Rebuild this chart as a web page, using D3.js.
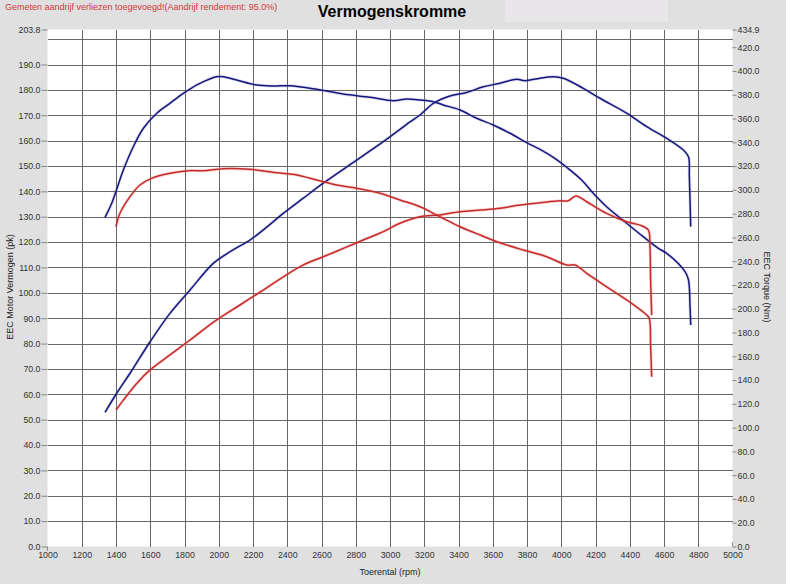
<!DOCTYPE html>
<html><head><meta charset="utf-8">
<script src="https://cdn.jsdelivr.net/npm/d3@7"></script>
<style>
html,body{margin:0;padding:0;background:#e0e0e0;}
svg{display:block;font-family:"Liberation Sans",Arial,sans-serif;}
</style></head>
<body>
<svg id="c" width="786" height="584"></svg>
<script>
// ---------- data ----------
const title = "Vermogenskromme";
const note = "Gemeten aandrijf verliezen toegevoegd!(Aandrijf rendement: 95.0%)";
const xLabel = "Toerental (rpm)";
const yLeftLabel = "EEC Motor Vermogen (pk)";
const yRightLabel = "EEC Torque (Nm)";
const xTicks = [1000,1200,1400,1600,1800,2000,2200,2400,2600,2800,3000,3200,3400,3600,3800,4000,4200,4400,4600,4800,5000];
const leftTicks = [0,10,20,30,40,50,60,70,80,90,100,110,120,130,140,150,160,170,180,190,203.8];
const leftGrid = [10,20,30,40,50,60,70,80,90,100,110,120,130,140,150,160,170,180,190,200];
const rightTicks = [0,20,40,60,80,100,120,140,160,180,200,220,240,260,280,300,320,340,360,380,400,420,434.9];

// blue power (pk)
const bluePowerRpm = [1336,1404,1482,1599,1715,1832,1968,2066,2182,2260,2377,2494,2610,2805,3000,3117,3175,3253,3350,3448,3545,3642,3740,3788,3876,3954,4012,4129,4226,4382,4499,4616,4713,4743,4748,4756];
const bluePowerPk  = [52.9,60.4,68.3,80.7,91.9,101.1,111.6,116.2,120.8,124.8,131.3,137.3,143.2,152.3,161.5,167.4,170.1,174.7,177.6,179.0,181.2,182.6,184.2,183.6,184.6,185.2,184.6,180.6,176.7,170.8,165.5,160.9,156.3,153.6,145.8,126.1];
// blue torque (Nm)
const blueTorqueRpm = [1336,1375,1443,1501,1560,1638,1715,1793,1890,1988,2027,2105,2222,2318,2416,2572,2727,2883,3019,3098,3175,3253,3311,3409,3506,3603,3701,3798,3876,3954,4032,4119,4187,4265,4382,4479,4567,4616,4723,4743,4752,4756];
const blueTorqueNm  = [276.9,288.7,316.7,336.3,351.8,364.4,372.8,381.2,389.6,395.2,395.2,392.4,388.2,387.4,387.6,384.6,380.6,377.9,375.0,376.4,375.6,374.2,371.4,367.2,360.2,354.6,347.6,339.7,334.1,327.4,319.0,308.3,297.1,285.8,271.9,260.6,250.8,246.6,231.2,224.2,201.7,186.3];
// red power (pk)
const redPowerRpm = [1400,1443,1521,1599,1715,1832,1988,2124,2260,2377,2494,2610,2727,2844,2961,3058,3175,3292,3409,3526,3642,3759,3876,3993,4041,4086,4149,4265,4382,4460,4508,4518,4522,4528];
const redPowerPk  = [53.8,57.7,64.3,69.6,75.5,81.4,89.3,95.2,101.1,106.3,111.0,114.2,117.5,120.8,124.1,127.4,130.0,130.7,132.0,132.6,133.3,134.6,135.5,136.3,136.3,138.2,135.9,131.3,128.0,126.7,124.8,118.2,105.0,91.2];
// red torque (Nm)
const redTorqueRpm = [1400,1423,1482,1540,1608,1715,1822,1910,2027,2182,2338,2455,2572,2689,2805,2942,3058,3175,3292,3409,3526,3642,3778,3915,4032,4080,4149,4265,4382,4499,4514,4522,4528];
const redTorqueNm  = [269.0,280.3,294.3,304.1,309.7,313.9,316.1,316.1,317.8,317.3,314.4,312.5,308.3,304.1,301.3,297.1,291.5,285.8,277.4,269.0,262.0,255.5,249.4,243.8,236.8,236.8,229.8,218.5,207.4,194.7,192.0,168.1,142.8];

// ---------- layout ----------
const svg = d3.select("#c");
const L = 47.5, R = 732.5, T = 29.5, B = 546.5;
const x = d3.scaleLinear().domain([1000,5000]).range([L,R]);
const yL = d3.scaleLinear().domain([0,203.8]).range([B,T]);
const yR = d3.scaleLinear().domain([0,434.9]).range([B,T]);

// title area
svg.append("rect").attr("x",505).attr("y",0).attr("width",163).attr("height",22).attr("fill","#e9e6e9");
svg.append("text").attr("x",5).attr("y",10).attr("font-size",9).attr("fill","#d03a3a").text(note);
svg.append("text").attr("x",392).attr("y",17).attr("text-anchor","middle").attr("font-size",16).attr("font-weight","bold").attr("fill","#000").text(title);

// plot background
svg.append("rect").attr("x",L).attr("y",T).attr("width",R-L).attr("height",B-T).attr("fill","#fff");

// grid
const g = svg.append("g").attr("stroke","#686868").attr("stroke-width",1).attr("shape-rendering","crispEdges");
xTicks.filter(v=>v>1000&&v<5000).forEach(v=>{
  g.append("line").attr("x1",Math.round(x(v))+0.5).attr("x2",Math.round(x(v))+0.5).attr("y1",T).attr("y2",B);
});
leftGrid.forEach(v=>{
  g.append("line").attr("x1",L).attr("x2",R).attr("y1",Math.round(yL(v))+0.5).attr("y2",Math.round(yL(v))+0.5);
});

// axes
const axL = d3.axisLeft(yL).tickValues(leftTicks).tickFormat(d=>d3.format(".1f")(d)).tickSize(6).tickPadding(1);
const gl = svg.append("g").attr("transform",`translate(${L},0)`).call(axL);
const axR = d3.axisRight(yR).tickValues(rightTicks).tickFormat(d=>d3.format(".1f")(d)).tickSize(4).tickPadding(1);
const gr = svg.append("g").attr("transform",`translate(${R},0)`).call(axR);
const axB = d3.axisBottom(x).tickValues(xTicks).tickFormat(d=>d).tickSize(0).tickPadding(5);
const gb = svg.append("g").attr("transform",`translate(0,${B})`).call(axB);
[gl,gr,gb].forEach(a=>{
  a.select(".domain").remove();
  a.selectAll("text").attr("font-size",8.8).attr("fill","#333").attr("font-family","Liberation Sans, Arial, sans-serif");
  a.selectAll("line").attr("stroke","#888");
});
// small end ticks on x axis
svg.append("line").attr("x1",x(1000)).attr("x2",x(1000)).attr("y1",B).attr("y2",B+4).attr("stroke","#888");
svg.append("line").attr("x1",x(5000)).attr("x2",x(5000)).attr("y1",B-4).attr("y2",B).attr("stroke","#888");

// axis titles
svg.append("text").attr("x",390).attr("y",575).attr("text-anchor","middle").attr("font-size",9).attr("fill","#222").text(xLabel);
svg.append("text").attr("transform","translate(13,287) rotate(-90)").attr("text-anchor","middle").attr("font-size",9).attr("fill","#222").text(yLeftLabel);
svg.append("text").attr("transform","translate(764,287) rotate(90)").attr("text-anchor","middle").attr("font-size",9).attr("fill","#222").text(yRightLabel);

// curves
function draw(rpm, vals, yScale, color, halo){
  const pts = rpm.map((r,i)=>[r, vals[i]]);
  const line = d3.line().x(d=>x(d[0])).y(d=>yScale(d[1])).curve(d3.curveCatmullRom.alpha(0.5));
  svg.append("path").attr("d",line(pts)).attr("fill","none").attr("stroke",halo).attr("stroke-width",3.2).attr("stroke-linejoin","round");
  svg.append("path").attr("d",line(pts)).attr("fill","none").attr("stroke",color).attr("stroke-width",1.5).attr("stroke-linejoin","round");
}
draw(blueTorqueRpm, blueTorqueNm, yR, "#15157a", "rgba(120,120,200,0.25)");
draw(bluePowerRpm, bluePowerPk, yL, "#15157a", "rgba(120,120,200,0.25)");
draw(redTorqueRpm, redTorqueNm, yR, "#c42a2a", "rgba(235,120,120,0.3)");
draw(redPowerRpm, redPowerPk, yL, "#c42a2a", "rgba(235,120,120,0.3)");
</script>
</body></html>
